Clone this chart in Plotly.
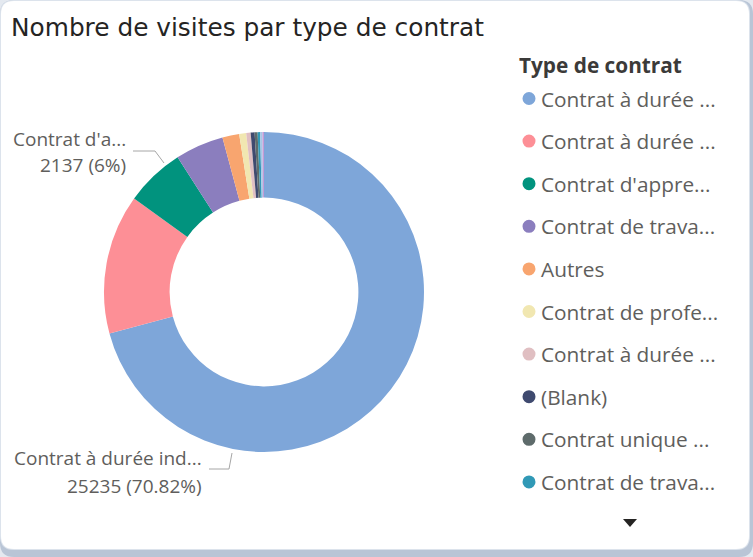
import plotly.graph_objects as go

W, H = 753, 557

# ---------------- data ----------------
categories = [
    "Contrat à durée indéterminée",
    "Contrat à durée déterminée",
    "Contrat d'apprentissage",
    "Contrat de travail temporaire",
    "Autres",
    "Contrat de professionnalisation",
    "Contrat à durée déterminée d'usage",
    "(Blank)",
    "Contrat unique d'insertion",
    "Contrat de travail saisonnier",
    "Contrat de chantier",
    "Stage",
]
visits = [25235, 5024, 2137, 1746, 606, 250, 160, 140, 107, 90, 80, 57]
colors = ["#7EA6D9", "#FD8F96", "#01937E", "#8B7EBE", "#F8A56F", "#F1E7B1",
          "#E0BFC2", "#3F4A6F", "#5E6B6B", "#3199B6", "#A9C6E6", "#C49BD6"]
legend_labels = ["Contrat à durée ...", "Contrat à durée ...", "Contrat d'appre...",
                 "Contrat de trava...", "Autres", "Contrat de profe...",
                 "Contrat à durée ...", "(Blank)", "Contrat unique ...",
                 "Contrat de trava..."]
slice_label_names = {0: "Contrat à durée ind...", 2: "Contrat d'a..."}

total = sum(visits)


def fmt_pct(v):
    s = f"{100 * v / total:.2f}".rstrip("0").rstrip(".")
    return s + "%"


def px(x):
    return x / W


def py(y):
    return 1 - y / H


FONT = "Open Sans, Noto Sans, sans-serif"

fig = go.Figure()
fig.add_trace(go.Pie(
    labels=categories,
    values=visits,
    sort=False,
    direction="clockwise",
    rotation=0,
    hole=0.59,
    marker=dict(colors=colors, line=dict(width=0)),
    textinfo="none",
    hoverinfo="label+value+percent",
    showlegend=False,
    domain=dict(x=[px(104), px(424)], y=[py(452), py(132)]),
))

shapes = []


def rrect(x0, y0, x1, y1, r):
    def P(x, y):
        return f"{px(x)},{py(y)}"
    return (f"M {P(x0 + r, y0)} L {P(x1 - r, y0)} Q {P(x1, y0)} {P(x1, y0 + r)} "
            f"L {P(x1, y1 - r)} Q {P(x1, y1)} {P(x1 - r, y1)} "
            f"L {P(x0 + r, y1)} Q {P(x0, y1)} {P(x0, y1 - r)} "
            f"L {P(x0, y0 + r)} Q {P(x0, y0)} {P(x0 + r, y0)} Z")


# card background: shadow + white rounded rect
shapes.append(dict(type="path", xref="paper", yref="paper", layer="below",
                   path=rrect(0, 0, 753, 557, 14), fillcolor="#B9C5D6", line=dict(width=0)))
shapes.append(dict(type="path", xref="paper", yref="paper", layer="below",
                   path=rrect(0, 0, 750, 550, 14), fillcolor="#DCE3EC", line=dict(width=0)))
shapes.append(dict(type="path", xref="paper", yref="paper", layer="below",
                   path=rrect(1, 1, 749, 549, 13), fillcolor="#FFFFFF", line=dict(width=0)))

annotations = []
# title
annotations.append(dict(text="Nombre de visites par type de contrat", x=px(9), y=py(27),
                        xref="paper", yref="paper", xanchor="left", yanchor="middle",
                        showarrow=False,
                        font=dict(family="DejaVu Sans, sans-serif", size=24.8, color="#252423")))

# legend
annotations.append(dict(text="<b>Type de contrat</b>", x=px(517), y=py(65),
                        xref="paper", yref="paper", xanchor="left", yanchor="middle",
                        showarrow=False, font=dict(family=FONT, size=20.8, color="#3B3A39")))
leg_y0, leg_dy = 98.5, 42.6
for i, lab in enumerate(legend_labels):
    yc = leg_y0 + i * leg_dy
    shapes.append(dict(type="circle", xref="paper", yref="paper",
                       x0=px(522.5), x1=px(535.5), y0=py(yc + 6.5), y1=py(yc - 6.5),
                       fillcolor=colors[i], line=dict(width=0)))
    annotations.append(dict(text=lab, x=px(539), y=py(yc),
                            xref="paper", yref="paper", xanchor="left", yanchor="middle",
                            showarrow=False, font=dict(family=FONT, size=20.8, color="#605E5C")))
# scroll arrow
shapes.append(dict(type="path", xref="paper", yref="paper",
                   path=f"M {px(623)},{py(519)} L {px(637)},{py(519)} L {px(630)},{py(527)} Z",
                   fillcolor="#252423", line=dict(width=0)))

# data labels
lab_font = dict(family=FONT, size=19, color="#605E5C")
# CDI label
annotations.append(dict(text=slice_label_names[0], x=px(204), y=py(458), xref="paper", yref="paper",
                        xanchor="right", yanchor="middle", showarrow=False, font=lab_font))
annotations.append(dict(text=f"{visits[0]} ({fmt_pct(visits[0])})", x=px(204), y=py(486),
                        xref="paper", yref="paper", xanchor="right", yanchor="middle",
                        showarrow=False, font=lab_font))
shapes.append(dict(type="path", xref="paper", yref="paper",
                   path=f"M {px(209)},{py(469)} L {px(229)},{py(469)} L {px(232)},{py(453)}",
                   line=dict(color="#A6A6A6", width=1)))
# apprenticeship label
annotations.append(dict(text=slice_label_names[2], x=px(128), y=py(139), xref="paper", yref="paper",
                        xanchor="right", yanchor="middle", showarrow=False, font=lab_font))
annotations.append(dict(text=f"{visits[2]} ({fmt_pct(visits[2])})", x=px(128), y=py(165),
                        xref="paper", yref="paper", xanchor="right", yanchor="middle",
                        showarrow=False, font=lab_font))
shapes.append(dict(type="path", xref="paper", yref="paper",
                   path=f"M {px(133)},{py(151)} L {px(155)},{py(151)} L {px(164)},{py(163)}",
                   line=dict(color="#A6A6A6", width=1)))

fig.update_layout(
    width=W, height=H, autosize=False,
    margin=dict(l=0, r=0, t=0, b=0),
    paper_bgcolor="#E4E9F0",
    plot_bgcolor="rgba(0,0,0,0)",
    shapes=shapes,
    annotations=annotations,
)

fig.write_html("out.html", config={"displayModeBar": False},
               post_script="document.body.style.margin='0px';document.body.style.overflow='hidden';")
